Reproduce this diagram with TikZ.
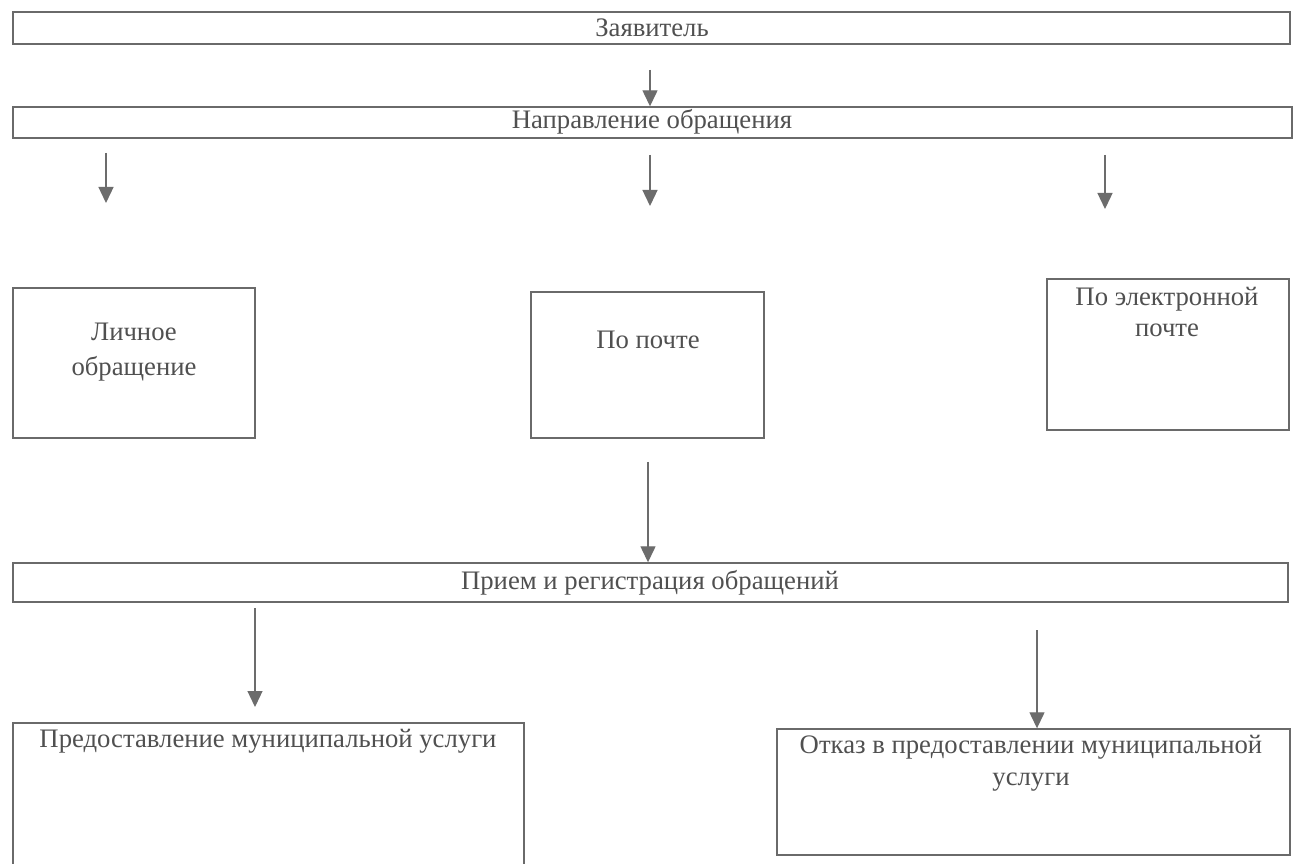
\documentclass[tikz,border=0pt]{standalone}
\usepackage{fontspec}
\setmainfont{Liberation Serif}
\usetikzlibrary{arrows.meta}
\definecolor{linegray}{HTML}{6A6A6A}
\definecolor{textgray}{HTML}{505050}

\begin{document}
\begin{tikzpicture}[x=0.02cm, y=-0.02cm,
    box/.style={draw=linegray, line width=0.8pt, rectangle, inner sep=0pt},
    txt/.style={text=textgray, align=center, inner sep=0pt, font=\fontsize{15.2}{18}\selectfont},
    arr/.style={draw=gray!85!black, line width=0.75pt, -{Triangle[length=3.2mm, width=3mm]}}]
        \useasboundingbox (0,0) rectangle (1298,864);
        \fill[white] (0,0) rectangle (1298,864);

        % boxes
        \node[box, minimum width=1277*0.02cm, minimum height=32*0.02cm] (Z) at (651.5, 28) {};
        \node[box, minimum width=1279*0.02cm, minimum height=31*0.02cm] (N) at (652.5, 122.5) {};
        \node[box, minimum width=242*0.02cm, minimum height=150*0.02cm] (L) at (134, 363) {};
        \node[box, minimum width=233*0.02cm, minimum height=146*0.02cm] (P) at (647.5, 365) {};
        \node[box, minimum width=242*0.02cm, minimum height=151*0.02cm] (E) at (1168, 354.5) {};
        \node[box, minimum width=1275*0.02cm, minimum height=39*0.02cm] (R) at (650.5, 582.5) {};
        \node[box, minimum width=511*0.02cm, minimum height=150*0.02cm] (U) at (268.5, 798) {};
        \node[box, minimum width=513*0.02cm, minimum height=126*0.02cm] (O) at (1033.5, 792) {};

        % texts
        \node[txt] (Zt) at (652, 28) {Заявитель};
        \node[txt] (Nt) at (652, 122) {Направление обращения};
        \node[txt] (Lt) at (134, 352) {Личное\\[2pt]обращение};
        \node[txt] (Pt) at (648, 340) {По почте};
        \node[txt] (Et) at (1167, 312) {По электронной\\почте};
        \node[txt] (Rt) at (650, 583) {Прием и регистрация обращений};
        \node[txt] (Ut) at (268, 741) {Предоставление муниципальной услуги};
        \node[txt] (Ot) at (1031, 763) {Отказ в предоставлении муниципальной\\услуги};

        % free arrow ends
        \coordinate (z1) at (650, 70);
        \coordinate (n1) at (106, 153);
        \coordinate (n1e) at (106, 203);
        \coordinate (n2) at (650, 155);
        \coordinate (n2e) at (650, 206);
        \coordinate (n3) at (1105, 155);
        \coordinate (n3e) at (1105, 209);
        \coordinate (p1) at (648, 462);
        \coordinate (r1) at (255, 608);
        \coordinate (r1e) at (255, 707);
        \coordinate (r2) at (1037, 630);

        \draw[arr] (z1) -- (z1 |- N.north);
        \draw[arr] (n1) -- (n1e);
        \draw[arr] (n2) -- (n2e);
        \draw[arr] (n3) -- (n3e);
        \draw[arr] (p1) -- (p1 |- R.north);
        \draw[arr] (r1) -- (r1e);
        \draw[arr] (r2) -- (r2 |- O.north);
    \end{tikzpicture}
\end{document}
